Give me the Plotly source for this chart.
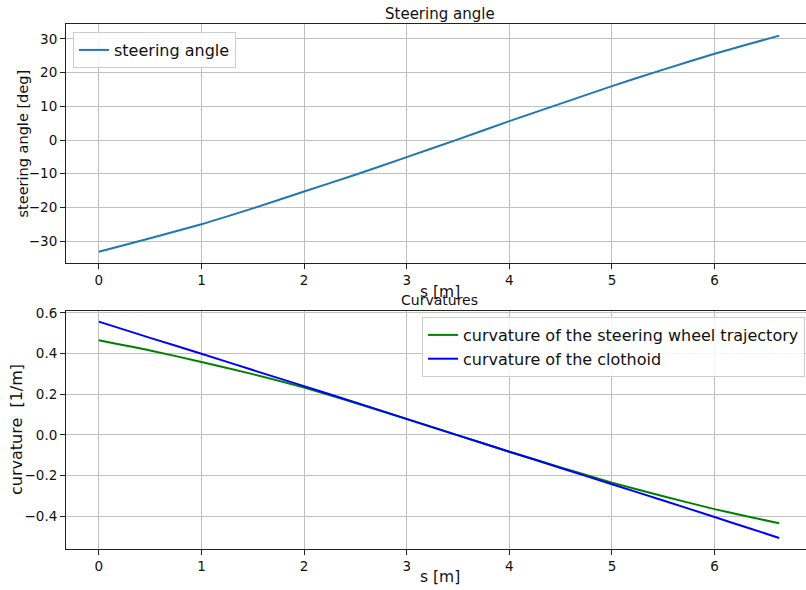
import plotly.graph_objects as go

# Arc length along the path [m]
s_values = [0, 0.5, 1, 1.5, 2, 2.5, 3, 3.5, 4, 4.5, 5, 5.5, 6, 6.3, 6.63]

# Steering angle [deg]
steering_angle = [-33.2, -29.2, -25.0, -20.3, -15.3, -10.3, -5.1, 0.2,
                  5.6, 10.8, 16.0, 20.9, 25.6, 28.2, 31.0]

# Curvatures [1/m]
curv_wheel = [0.465, 0.415, 0.359, 0.299, 0.233, 0.157, 0.078, -0.002,
              -0.082, -0.159, -0.234, -0.301, -0.364, -0.398, -0.434]
curv_clothoid = [0.557, 0.477, 0.399, 0.319, 0.240, 0.160, 0.079, -0.002,
                 -0.082, -0.162, -0.242, -0.322, -0.403, -0.452, -0.506]

x_ticks = [0, 1, 2, 3, 4, 5, 6]
angle_ticks = [-30, -20, -10, 0, 10, 20, 30]
curv_ticks = [-0.4, -0.2, 0.0, 0.2, 0.4, 0.6]

FONT = "DejaVu Sans"
W, H = 806, 590
ML, MR, MT, MB = 66, 0, 24, 41
PW, PH = W - ML - MR, H - MT - MB


def py(pix):
    return (H - MB - pix) / PH


def px(pix):
    return (pix - ML) / PW


fig = go.Figure()

fig.add_trace(go.Scatter(
    x=s_values, y=steering_angle, mode="lines", name="steering angle",
    line=dict(color="#1f77b4", width=2, shape="spline", smoothing=0.6),
    xaxis="x", yaxis="y", legend="legend"))

fig.add_trace(go.Scatter(
    x=s_values, y=curv_wheel, mode="lines",
    name="curvature of the steering wheel trajectory",
    line=dict(color="green", width=2, shape="spline", smoothing=0.6),
    xaxis="x2", yaxis="y2", legend="legend2"))

fig.add_trace(go.Scatter(
    x=s_values, y=curv_clothoid, mode="lines",
    name="curvature of the clothoid",
    line=dict(color="blue", width=2, shape="spline", smoothing=0.6),
    xaxis="x2", yaxis="y2", legend="legend2"))

axis_common = dict(
    showline=True, linecolor="#222222", linewidth=1,
    ticks="outside", ticklen=5, tickwidth=1, tickcolor="#222222",
    showgrid=True, gridcolor="#c0c0c0", gridwidth=1,
    zeroline=False, tickfont=dict(family=FONT, size=13.5, color="#111111"),
)

x_range = [-0.32, (W - 99) / 102.6]

legend_common = dict(
    bgcolor="rgba(255,255,255,0.85)", bordercolor="#cccccc", borderwidth=1,
    font=dict(family=FONT, size=16, color="#111111"),
    itemwidth=30, tracegroupgap=0)

fig.update_layout(
    width=W, height=H,
    margin=dict(l=ML, r=MR, t=MT, b=MB),
    plot_bgcolor="white", paper_bgcolor="white",
    font=dict(family=FONT, color="#111111"),
    xaxis=dict(axis_common, domain=[0, 1], anchor="y", range=x_range,
               tickvals=x_ticks, mirror=True),
    yaxis=dict(axis_common, domain=[py(263), 1], anchor="x",
               range=[-36.53, 34.45], tickvals=angle_ticks),
    xaxis2=dict(axis_common, domain=[0, 1], anchor="y2", range=x_range,
                tickvals=x_ticks, mirror=True),
    yaxis2=dict(axis_common, domain=[0, py(311)], anchor="x2",
                range=[-0.560, 0.609], tickvals=curv_ticks, tickformat=".1f"),
    legend=dict(legend_common, x=px(73), y=py(32),
                xanchor="left", yanchor="top"),
    legend2=dict(legend_common, x=px(805), y=py(317),
                 xanchor="right", yanchor="top"),
    showlegend=True,
)


def label(text, xp, yp, size, angle=0):
    fig.add_annotation(text=text, x=px(xp), y=py(yp), xref="paper", yref="paper",
                       xanchor="center", yanchor="middle", showarrow=False,
                       textangle=angle, font=dict(family=FONT, size=size))


label("Steering angle", 440, 14, 15)
label("Curvatures", 440, 300, 14)
label("s [m]", 440, 292, 15.5)
label("s [m]", 440, 577, 15.5)
label("steering angle [deg]", 22, 143.5, 14.5, -90)
label("curvature  [1/m]", 16, 430, 16, -90)

fig.write_html("out.html")
